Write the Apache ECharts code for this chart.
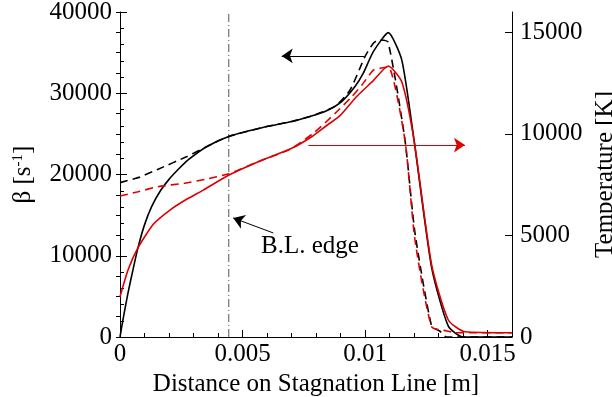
<!DOCTYPE html>
<html>
<head>
<meta charset="utf-8">
<script src="https://cdn.jsdelivr.net/npm/echarts@6/dist/echarts.min.js"></script>
<style>
  html, body { margin: 0; padding: 0; background: #fff; }
  #chart { width: 612px; height: 397px; }
</style>
</head>
<body>
<div id="chart"></div>
<script>
// beta (left axis), solid curve
const betaSolidX = [0, 0.000122, 0.000327, 0.000531, 0.000735, 0.001, 0.0013, 0.00165, 0.002, 0.0024, 0.00278, 0.00355, 0.00444, 0.005988, 0.007008, 0.007755, 0.008367, 0.009049, 0.009592, 0.00993, 0.01034, 0.01095, 0.0115, 0.012, 0.01272, 0.0134, 0.01401, 0.016]
const betaSolidY = [0, 2150, 5430, 8300, 11000, 13800, 16100, 18000, 19400, 20700, 21800, 23450, 24680, 25900, 26520, 27140, 27750, 28980, 30820, 32470, 35120, 37460, 34100, 24270, 8540, 1330, 0, 0]
// beta (left axis), dashed curve
const betaDashX = [0, 0.000816, 0.00151, 0.002735, 0.00355, 0.00444, 0.005988, 0.007008, 0.007755, 0.00878, 0.00939, 0.0100, 0.01034, 0.01057, 0.01094, 0.01163, 0.01204, 0.01272, 0.01306, 0.01333, 0.016]
const betaDashY = [19000, 19700, 20590, 22220, 23450, 24680, 25900, 26520, 27140, 28400, 30400, 34510, 36150, 36560, 36300, 24270, 12800, 1330, 710, 0, 0]
// temperature (right axis), solid curve
const tempSolidX = [0, 0.000327, 0.000735, 0.00136, 0.00204, 0.00272, 0.0034, 0.00441, 0.005645, 0.00701, 0.007824, 0.008367, 0.00898, 0.00967, 0.01032, 0.01095, 0.0115, 0.012, 0.01272, 0.0134, 0.01408, 0.016]
const tempSolidY = [1980, 3300, 4400, 5550, 6250, 6780, 7230, 7950, 8630, 9290, 9860, 10350, 10900, 11850, 12600, 13340, 12570, 9700, 3545, 837, 260, 210]
// temperature (right axis), dashed curve
const tempDashX = [0, 0.000735, 0.00155, 0.00264, 0.003457, 0.00444, 0.005645, 0.00701, 0.00796, 0.00878, 0.00946, 0.00987, 0.01034, 0.01061, 0.01095, 0.01163, 0.01204, 0.01272, 0.01333, 0.01367, 0.016]
const tempDashY = [6940, 7150, 7400, 7570, 7760, 8040, 8630, 9290, 10100, 11010, 11830, 12400, 13140, 13230, 13300, 9700, 4775, 510, 300, 212, 212]

// boundary layer edge and annotation arrows
const blEdge = 0.00444
const betaArrow = [[0.00997, 34600], [0.0066, 34600]]
const tempArrow = [[0.00769, 9450], [0.01408, 9450]]
const edgeArrow = [[0.00626, 12800], [0.00462, 14650]]

const xTicks = { min: 0, max: 0.016, major: 0.005, minor: 0.001 }
const betaTicks = { min: 0, max: 40000, major: 10000 }
const tempTicks = { min: 0, max: 16000, major: 5000, minor: 1000 }

const font = 'Liberation Serif'
const zip = (xs, ys) => xs.map((x, i) => [x, ys[i]])

const chart = echarts.init(document.getElementById('chart'))

const textStyle = { fontFamily: font, fontSize: 25, color: '#000' }
const black = { color: '#000', width: 1 }
const curve = { type: 'line', symbol: 'none', smooth: 0.2 }

const option = {
  animation: false,
  grid: { left: 120, right: 100, top: 12, bottom: 60, outerBoundsMode: 'none' },
  xAxis: [
    {
      type: 'value',
      min: xTicks.min, max: xTicks.max, interval: xTicks.major,
      name: 'Distance on Stagnation Line [m]',
      nameLocation: 'middle', nameGap: 27, nameTextStyle: textStyle,
      axisLine: { onZero: false, lineStyle: black },
      axisTick: { inside: true, length: 7, lineStyle: black },
      axisLabel: { ...textStyle, margin: 5, showMaxLabel: false, formatter: v => String(v) },
      splitLine: { show: false }
    },
    {
      type: 'value', position: 'bottom',
      min: xTicks.min, max: xTicks.max, interval: xTicks.minor,
      axisLine: { show: false },
      axisTick: { inside: true, length: 4, lineStyle: black },
      axisLabel: { show: false },
      splitLine: { show: false }
    }
  ],
  yAxis: [
    {
      type: 'value', position: 'left',
      min: betaTicks.min, max: betaTicks.max, interval: betaTicks.major,
      name: 'β [s{sup|-1}]',
      nameLocation: 'middle', nameGap: 84, nameRotate: 90,
      nameTextStyle: { ...textStyle, rich: { sup: { fontFamily: font, fontSize: 15, color: '#000', verticalAlign: 'top' } } },
      axisLine: { onZero: false, lineStyle: black },
      axisTick: { inside: true, length: 7, lineStyle: black },
      minorTick: { show: true, splitNumber: 5, length: 4, lineStyle: black },
      axisLabel: { ...textStyle, margin: 8, formatter: v => String(v) },
      splitLine: { show: false }, minorSplitLine: { show: false }
    },
    {
      type: 'value', position: 'right',
      min: tempTicks.min, max: tempTicks.max, interval: tempTicks.major,
      name: 'Temperature [K]',
      nameLocation: 'middle', nameGap: 77, nameRotate: 90, nameTextStyle: textStyle,
      axisLine: { onZero: false, lineStyle: black },
      axisTick: { inside: true, length: 7, lineStyle: black },
      axisLabel: { ...textStyle, margin: 8, showMaxLabel: false,
        formatter: v => (v % tempTicks.major === 0 ? String(v) : '') },
      splitLine: { show: false }
    },
    {
      type: 'value', position: 'right',
      min: tempTicks.min, max: tempTicks.max, interval: tempTicks.minor,
      axisLine: { show: false },
      axisTick: { inside: true, length: 4, lineStyle: black },
      axisLabel: { show: false },
      splitLine: { show: false }
    }
  ],
  graphic: [
    { type: 'text', left: 261, top: 234, style: { text: 'B.L. edge', font: '25px "Liberation Serif"', fill: '#000' } }
  ],
  series: [
    {
      type: 'line', data: [[blEdge, betaTicks.min], [blEdge, betaTicks.max]],
      symbol: 'none', lineStyle: { color: '#555', width: 1, type: [8, 3, 1, 3] }, silent: true
    },
    { ...curve, data: zip(betaSolidX, betaSolidY), yAxisIndex: 0,
      lineStyle: { color: '#000', width: 1.6 } },
    { ...curve, data: zip(betaDashX, betaDashY), yAxisIndex: 0,
      lineStyle: { color: '#000', width: 1.6, type: [8, 5] } },
    { ...curve, data: zip(tempSolidX, tempSolidY), yAxisIndex: 1,
      lineStyle: { color: '#dd0000', width: 1.6 } },
    { ...curve, data: zip(tempDashX, tempDashY), yAxisIndex: 1,
      lineStyle: { color: '#dd0000', width: 1.6, type: [8, 5] } },
    {
      type: 'lines', coordinateSystem: 'cartesian2d', xAxisIndex: 0, yAxisIndex: 0,
      symbol: ['none', 'arrow'], symbolSize: [7, 11], silent: true,
      lineStyle: { color: '#000', width: 1, opacity: 1 },
      data: [{ coords: betaArrow }, { coords: edgeArrow }]
    },
    {
      type: 'lines', coordinateSystem: 'cartesian2d', xAxisIndex: 0, yAxisIndex: 1,
      symbol: ['none', 'arrow'], symbolSize: [7, 11], silent: true,
      lineStyle: { color: '#dd0000', width: 1, opacity: 1 },
      data: [{ coords: tempArrow }]
    }
  ]
}

chart.setOption(option)
</script>
</body>
</html>
